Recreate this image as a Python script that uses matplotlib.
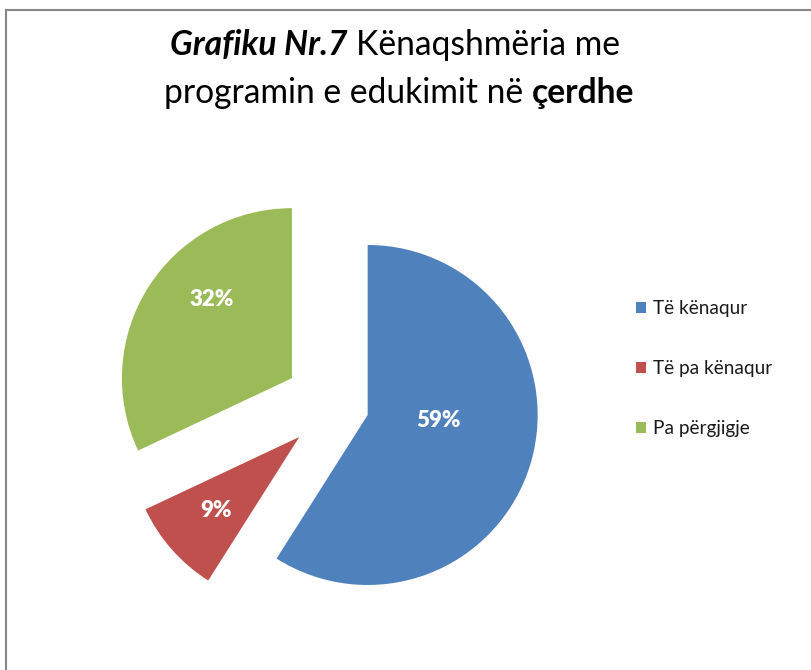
import matplotlib
matplotlib.use("Agg")
import matplotlib.pyplot as plt
from matplotlib.patches import Patch
from matplotlib.lines import Line2D
import numpy as np

# ---- data ----
categories = ["Të kënaqur", "Të pa kënaqur", "Pa përgjigje"]
values = [59, 9, 32]
colors = ["#4F81BD", "#C0504D", "#9BBB59"]
explode = [0.20, 0.28, 0.30]

W, H = 812, 670
DPI = 100
FONT = "Lato"
plt.rcParams["font.family"] = [FONT, "DejaVu Sans"]

fig = plt.figure(figsize=(W / DPI, H / DPI), dpi=DPI)
fig.patch.set_facecolor("white")

# pie axes: centre at (335, 405.5) px, radius 170 px
R_PX = 170.0
L = 1.5
cx, cy = 335.0, 405.5
size = 2 * L * R_PX
ax = fig.add_axes([(cx - size / 2) / W, (H - cy - size / 2) / H, size / W, size / H])

wedges, texts, autotexts = ax.pie(
    values, colors=colors, explode=explode, startangle=90, counterclock=False,
    radius=1.0, autopct=lambda p: f"{p:.0f}%", pctdistance=0.6,
    textprops=dict(color="white", fontsize=16, fontweight="heavy"),
    wedgeprops=dict(linewidth=0),
)
ax.set_xlim(-L, L)
ax.set_ylim(-L, L)
ax.set_aspect("equal")
ax.axis("off")

# label placement relative to each wedge centre (distance, angle tweak)
lab_dist = [0.42, 0.65, 0.66]
lab_dang = [12.0, 0.0, -12.0]
for w, t, d, da in zip(wedges, autotexts, lab_dist, lab_dang):
    mid = np.deg2rad((w.theta1 + w.theta2) / 2 + da)
    x0, y0 = w.center
    t.set_position((x0 + d * np.cos(mid), y0 + d * np.sin(mid)))
    t.set_ha("center"); t.set_va("center")

# legend
handles = [Patch(facecolor=c, edgecolor="none") for c in colors]
leg = fig.legend(handles, categories, loc="upper left",
                 bbox_to_anchor=(636 / W, 1 - 300 / H), frameon=False,
                 fontsize=13.7, handlelength=0.55, handleheight=0.55,
                 handletextpad=0.35, labelspacing=2.27, borderaxespad=0,
                 borderpad=0)
for t in leg.get_texts():
    t.set_color("#1a1a1a")

# border lines (top and left)
fig.add_artist(Line2D([6 / W, 1], [1 - 10 / H, 1 - 10 / H], transform=fig.transFigure,
                      color="#888888", lw=1.5))
fig.add_artist(Line2D([6 / W, 6 / W], [0, 1 - 10 / H], transform=fig.transFigure,
                      color="#888888", lw=1.5))

# title with mixed styles
renderer = fig.canvas.get_renderer()
TSIZE = 24.2


def run_line(runs, center_px, baseline_px):
    objs = []
    for s, style, weight in runs:
        t = fig.text(0, 1 - baseline_px / H, s, fontsize=TSIZE, fontstyle=style,
                     fontweight=weight, va="baseline", ha="left", color="black")
        objs.append(t)
    sp = fig.text(0, 0, "a a", fontsize=TSIZE)
    sp2 = fig.text(0, 0, "aa", fontsize=TSIZE)
    space = sp.get_window_extent(renderer).width - sp2.get_window_extent(renderer).width
    sp.remove(); sp2.remove()
    widths = [o.get_window_extent(renderer).width for o in objs]
    total = sum(widths) + space * (len(objs) - 1)
    x = center_px - total / 2
    for o, w in zip(objs, widths):
        o.set_x(x / W)
        x += w + space


run_line([("Grafiku Nr.7", "italic", "bold"), ("Kënaqshmëria me", "normal", "normal")], 395, 55)
run_line([("programin e edukimit në", "normal", "normal"), ("çerdhe", "normal", "bold")], 399, 103)

fig.savefig("out.png", dpi=DPI, facecolor="white")
